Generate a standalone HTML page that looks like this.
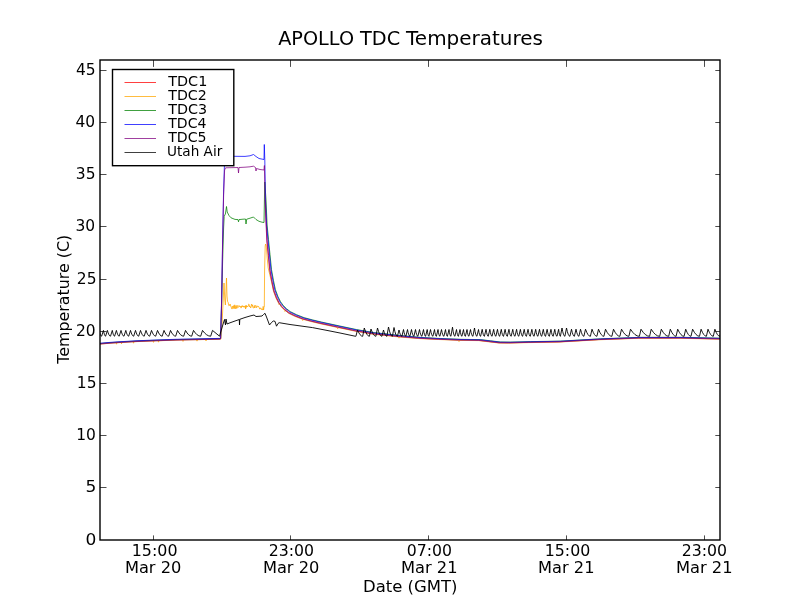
<!DOCTYPE html>
<html lang="en"><head><meta charset="utf-8"><title>APOLLO TDC Temperatures</title>
<style>
html,body{margin:0;padding:0;background:#fff;}
body{width:800px;height:600px;overflow:hidden;}
svg{display:block;will-change:transform;}
text{font-family:"DejaVu Sans","Bitstream Vera Sans","Liberation Sans",sans-serif;fill:#000;}
.t12{font-size:16.67px;}
.t10{font-size:13.89px;}
.t14{font-size:20px;}
.ln{fill:none;stroke-width:0.75;stroke-linejoin:round;stroke-linecap:butt;}
</style></head><body>
<svg width="800" height="600" viewBox="0 0 800 600">
<rect x="0" y="0" width="800" height="600" fill="#ffffff"/>

<defs><clipPath id="ax"><rect x="100" y="60" width="620" height="480"/></clipPath></defs>
<g clip-path="url(#ax)">
<path class="ln" stroke="#ff0000" d="M99.00 343.82 L100.00 343.72 L110.00 342.87 L118.00 342.32 L136.00 341.27 L156.00 340.47 L176.00 339.77 L200.00 339.27 L220.00 338.87 M265.25 200.00 L266.35 225.00 L267.10 240.70 L268.60 255.70 L270.10 270.70 L272.10 281.70 L274.00 290.70 L276.60 297.70 L279.10 302.70 L281.80 306.40 L285.10 309.70 L288.80 312.60 L295.10 315.70 L302.80 318.70 L311.10 320.90 L320.30 323.10 L337.80 326.90 L355.30 330.60 L372.80 333.60 L399.10 336.42 L419.10 338.14 L439.10 339.15 L459.10 339.95 L479.10 340.25 L489.10 341.45 L499.10 342.65 L509.10 342.75 L529.10 342.25 L559.10 341.75 L599.10 339.45 L639.10 337.95 L681.10 337.95 L720.10 338.85"/>
<path class="ln" stroke="#ffa500" d="M99.00 344.20 L100.00 344.10 L110.00 343.25 L116.10 342.83 L116.50 344.20 L116.90 342.78 L118.00 342.70 L121.10 342.52 L121.50 343.90 L121.90 342.47 L133.10 341.82 L133.50 343.20 L133.90 341.77 L136.00 341.65 L153.10 340.97 L153.50 342.35 L153.90 340.93 L156.00 340.85 L158.10 340.78 L158.50 342.16 L158.90 340.75 L176.00 340.15 L182.60 340.01 L183.00 341.40 L183.40 340.00 L196.60 339.72 L197.00 341.11 L197.40 339.70 L200.00 339.65 L205.60 339.54 L206.00 340.93 L206.40 339.52 L220.00 339.25 L220.80 339.20 L222.00 325.00 L223.20 300.00 L224.00 283.00 L224.80 300.00 L225.40 305.00 L226.00 290.00 L226.50 278.00 L227.00 296.00 L227.30 299.11 L227.69 301.78 L228.08 302.26 L228.47 304.05 L228.86 305.78 L229.25 305.42 L229.64 305.57 L230.03 303.99 L230.42 305.03 L230.81 306.23 L231.20 307.20 L231.59 307.94 L231.98 309.09 L232.37 306.39 L232.76 305.99 L233.15 308.59 L233.54 305.65 L233.93 306.65 L234.32 308.65 L234.71 304.83 L235.10 307.24 L235.49 308.70 L235.88 305.66 L236.27 306.99 L236.66 308.49 L237.05 305.22 L237.44 306.85 L237.83 307.79 L238.22 307.44 L238.61 306.58 L239.00 305.47 L239.39 306.66 L239.78 306.15 L240.17 306.58 L240.56 306.10 L240.95 308.08 L241.34 307.77 L241.73 305.85 L242.12 306.93 L242.51 305.67 L242.90 306.40 L243.29 305.96 L243.68 307.21 L244.07 305.98 L244.46 306.33 L244.85 307.39 L245.24 306.08 L245.63 309.02 L246.02 305.05 L246.41 307.37 L246.80 306.01 L247.19 306.00 L247.58 306.84 L247.97 306.35 L248.36 305.87 L248.75 304.10 L249.14 304.46 L249.53 307.02 L249.92 306.22 L250.31 306.91 L250.70 307.97 L251.09 306.80 L251.48 304.13 L251.87 305.18 L252.26 306.34 L252.65 304.81 L253.04 307.87 L253.43 307.92 L253.82 307.64 L254.21 306.20 L254.60 307.88 L254.99 305.03 L255.38 305.91 L255.77 306.69 L256.16 307.99 L256.55 307.05 L256.94 305.71 L257.33 306.72 L257.72 306.77 L258.11 306.78 L258.50 306.26 L258.89 307.36 L259.28 307.55 L259.67 308.98 L260.06 309.12 L260.45 308.02 L260.84 307.81 L261.23 309.20 L261.62 309.71 L262.01 308.87 L262.40 309.45 L262.79 310.08 L263.18 306.36 L263.57 309.92 L263.96 307.46 L264.30 307.00 L264.60 270.00 L265.20 246.00 L265.60 244.00 L266.20 246.00 L266.60 250.00 L267.20 258.00 L268.20 268.00 L271.60 282.25 L273.50 291.25 L276.10 298.25 L278.60 303.25 L279.00 304.55 L279.40 303.35 L281.30 306.95 L284.60 310.25 L285.00 311.55 L285.40 310.35 L288.30 313.15 L294.60 316.25 L302.30 319.25 L302.70 320.55 L303.10 319.35 L310.60 321.45 L319.80 323.65 L337.30 327.45 L337.70 328.75 L338.10 327.55 L354.80 331.15 L372.30 334.15 L398.60 336.90 L399.00 338.20 L399.40 337.00 L418.60 338.56 L438.60 339.51 L458.60 340.31 L459.00 341.61 L459.40 340.41 L478.60 340.61 L488.60 341.81 L498.60 343.01 L508.60 343.11 L528.60 342.61 L558.60 342.11 L598.60 339.81 L638.60 338.31 L680.60 338.31 L719.60 339.21"/>
<path class="ln" stroke="#008000" d="M99.00 343.61 L100.00 343.50 L110.00 342.65 L118.00 342.11 L136.00 341.06 L156.00 340.25 L176.00 339.56 L200.00 339.06 L220.00 338.65 L220.60 338.50 L221.60 305.00 L222.60 262.00 L223.60 228.00 L224.20 216.50 L224.80 215.00 L225.40 214.00 L226.50 206.50 L227.20 212.00 L229.00 215.50 L231.00 217.80 L235.00 219.40 L238.00 219.60 L238.50 221.80 L239.00 219.60 L243.00 219.20 L245.50 219.00 L246.00 224.00 L246.70 219.20 L250.00 218.20 L253.50 217.00 L256.00 219.50 L259.00 221.30 L262.00 222.20 L264.00 222.50 L264.50 195.00 L264.80 182.00 L266.00 200.00 L267.10 225.00 L268.50 239.70 L270.00 254.70 L271.50 269.70 L273.50 280.70 L275.40 289.70 L278.00 296.70 L280.50 301.70 L283.20 305.40 L286.50 308.70 L290.20 311.60 L296.50 314.70 L304.20 317.70 L312.50 319.90 L321.70 322.10 L339.20 325.90 L356.70 329.60 L374.20 332.60 L400.50 335.54 L420.50 337.37 L440.50 338.50 L460.50 339.31 L480.50 339.61 L490.50 340.81 L500.50 342.00 L510.50 342.11 L530.50 341.61 L560.50 341.11 L600.50 338.81 L640.50 337.31 L682.50 337.31 L721.50 338.20"/>
<path class="ln" stroke="#0000ff" d="M99.00 343.35 L100.00 343.25 L110.00 342.40 L118.00 341.85 L136.00 340.80 L156.00 340.00 L176.00 339.30 L200.00 338.80 L220.00 338.40 L220.60 338.20 L221.60 300.00 L222.60 240.00 L223.60 190.00 L224.60 160.00 L225.60 156.50 L234.00 156.30 L245.00 156.40 L250.00 155.80 L253.50 154.50 L256.00 156.50 L259.00 158.50 L264.00 159.50 L264.30 144.50 L264.80 160.00 L265.50 200.00 L266.60 225.00 L268.00 240.00 L269.50 255.00 L271.00 270.00 L273.00 281.00 L274.90 290.00 L277.50 297.00 L280.00 302.00 L282.70 305.70 L286.00 309.00 L289.70 311.90 L296.00 315.00 L303.70 318.00 L312.00 320.20 L321.20 322.40 L338.70 326.20 L356.20 329.90 L373.70 332.90 L400.00 335.80 L420.00 337.60 L440.00 338.70 L460.00 339.50 L480.00 339.80 L490.00 341.00 L500.00 342.20 L510.00 342.30 L530.00 341.80 L560.00 341.30 L600.00 339.00 L640.00 337.50 L682.00 337.50 L721.00 338.40"/>
<path class="ln" stroke="#800080" d="M99.00 344.12 L100.00 344.01 L110.00 343.16 L118.00 342.62 L136.00 341.56 L156.00 340.76 L176.00 340.06 L200.00 339.56 L220.00 339.16 L220.60 338.90 L221.60 302.00 L222.60 244.00 L223.60 196.00 L224.60 170.00 L225.60 167.80 L234.00 167.60 L238.00 167.50 L238.50 173.00 L239.00 167.50 L245.00 167.20 L250.00 166.80 L253.50 166.20 L255.50 167.50 L256.00 171.00 L256.50 168.50 L260.00 169.50 L264.00 170.00 L264.40 165.50 L264.70 180.00 L265.00 200.00 L266.10 225.00 L266.80 240.90 L268.30 255.90 L269.80 270.90 L271.80 281.90 L273.70 290.90 L276.30 297.90 L278.80 302.90 L281.50 306.60 L284.80 309.90 L288.50 312.80 L294.80 315.90 L302.50 318.90 L310.80 321.10 L320.00 323.30 L337.50 327.10 L355.00 330.80 L372.50 333.80 L398.80 336.60 L418.80 338.29 L438.80 339.28 L458.80 340.08 L478.80 340.38 L488.80 341.58 L498.80 342.78 L508.80 342.88 L528.80 342.38 L558.80 341.88 L598.80 339.58 L638.80 338.08 L680.80 338.08 L719.80 338.98"/>
<path class="ln" stroke="#000000" style="stroke-width:0.9" d="M97.40 336.20 L99.20 330.40 L99.81 332.94 L100.43 334.75 L101.04 335.84 L101.65 336.20 L103.45 330.40 L103.99 332.94 L104.53 334.75 L105.06 335.84 L105.60 336.20 L107.40 330.40 L108.18 332.94 L108.95 334.75 L109.72 335.84 L110.50 336.20 L112.30 330.40 L112.88 332.94 L113.45 334.75 L114.03 335.84 L114.60 336.20 L116.40 330.40 L117.10 332.94 L117.80 334.75 L118.50 335.84 L119.20 336.20 L121.00 330.40 L121.75 332.94 L122.50 334.75 L123.25 335.84 L124.00 336.20 L125.80 330.40 L126.52 332.94 L127.25 334.75 L127.97 335.84 L128.70 336.20 L130.50 330.40 L131.30 332.94 L132.10 334.75 L132.90 335.84 L133.70 336.20 L135.50 330.40 L136.30 332.94 L137.10 334.75 L137.90 335.84 L138.70 336.20 L140.50 330.40 L141.43 332.94 L142.35 334.75 L143.27 335.84 L144.20 336.20 L146.00 330.40 L146.93 332.94 L147.85 334.75 L148.77 335.84 L149.70 336.20 L151.50 330.40 L152.55 332.94 L153.60 334.75 L154.65 335.84 L155.70 336.20 L157.50 330.40 L158.68 332.94 L159.85 334.75 L161.02 335.84 L162.20 336.20 L164.00 330.40 L165.18 332.94 L166.35 334.75 L167.52 335.84 L168.70 336.20 L170.50 330.40 L171.80 332.94 L173.10 334.75 L174.40 335.84 L175.70 336.20 L177.50 330.40 L179.05 332.94 L180.60 334.75 L182.15 335.84 L183.70 336.20 L185.50 330.40 L187.05 332.94 L188.60 334.75 L190.15 335.84 L191.70 336.20 L193.50 330.40 L195.30 332.94 L197.10 334.75 L198.90 335.84 L200.70 336.20 L202.50 330.40 L204.55 332.94 L206.60 334.75 L208.65 335.84 L210.70 336.20 L212.50 330.40 L219.50 336.20 L221.00 331.00 L222.50 326.00 L224.50 319.50 L225.50 325.00 L226.00 319.00 L227.00 324.00 L230.00 322.80 L235.00 321.00 L239.30 319.50 L239.50 325.00 L239.80 319.30 L245.00 317.50 L250.00 316.00 L254.00 315.00 L256.00 316.50 L259.00 316.30 L262.00 316.00 L263.50 314.50 L265.00 313.30 L266.50 317.00 L269.50 325.00 L271.50 322.50 L273.30 321.00 L275.00 321.30 L276.50 326.20 L278.00 323.50 L279.20 322.70 L290.00 324.50 L312.50 327.60 L330.00 331.00 L340.00 333.00 L355.60 336.30 L355.90 336.30 L357.50 330.00 L358.80 332.76 L360.10 334.73 L361.40 335.91 L362.70 336.30 L364.30 328.00 L365.57 331.63 L366.85 334.23 L368.12 335.78 L369.40 336.30 L371.00 329.00 L372.23 332.19 L373.45 334.48 L374.67 335.84 L375.90 336.30 L377.50 328.00 L378.60 331.63 L379.70 334.23 L380.80 335.78 L381.90 336.30 L383.50 330.00 L384.35 332.76 L385.20 334.73 L386.05 335.91 L386.90 336.30 L388.50 327.00 L389.48 331.07 L390.45 333.98 L391.42 335.72 L392.40 336.30 L394.00 327.50 L394.85 331.35 L395.70 334.10 L396.55 335.75 L397.40 336.30 L399.00 330.00 L399.73 332.76 L400.45 334.73 L401.17 335.91 L401.90 336.30 L403.50 329.50 L404.10 332.48 L404.70 334.60 L405.30 335.88 L405.90 336.30 L407.50 329.50 L408.10 332.48 L408.70 334.60 L409.30 335.88 L409.90 336.30 L411.50 329.50 L412.10 332.48 L412.70 334.60 L413.30 335.88 L413.90 336.30 L415.50 329.50 L416.10 332.48 L416.70 334.60 L417.30 335.88 L417.90 336.30 L419.50 329.50 L420.10 332.48 L420.70 334.60 L421.30 335.88 L421.90 336.30 L423.50 329.50 L424.02 332.48 L424.55 334.60 L425.07 335.88 L425.60 336.30 L427.20 329.50 L427.62 332.48 L428.05 334.60 L428.47 335.88 L428.90 336.30 L430.50 329.50 L431.10 332.48 L431.70 334.60 L432.30 335.88 L432.90 336.30 L434.50 329.50 L434.98 332.48 L435.45 334.60 L435.92 335.88 L436.40 336.30 L438.00 329.50 L438.48 332.48 L438.95 334.60 L439.42 335.88 L439.90 336.30 L441.50 329.50 L442.10 332.48 L442.70 334.60 L443.30 335.88 L443.90 336.30 L445.50 329.50 L445.98 332.48 L446.45 334.60 L446.92 335.88 L447.40 336.30 L449.00 329.50 L449.48 332.48 L449.95 334.60 L450.42 335.88 L450.90 336.30 L452.50 327.20 L453.10 331.18 L453.70 334.02 L454.30 335.73 L454.90 336.30 L456.50 329.50 L456.98 332.48 L457.45 334.60 L457.92 335.88 L458.40 336.30 L460.00 329.50 L460.48 332.48 L460.95 334.60 L461.42 335.88 L461.90 336.30 L463.50 329.50 L463.98 332.48 L464.45 334.60 L464.92 335.88 L465.40 336.30 L467.00 329.50 L467.48 332.48 L467.95 334.60 L468.42 335.88 L468.90 336.30 L470.50 329.50 L471.10 332.48 L471.70 334.60 L472.30 335.88 L472.90 336.30 L474.50 328.00 L475.10 331.63 L475.70 334.23 L476.30 335.78 L476.90 336.30 L478.50 329.50 L479.02 332.48 L479.55 334.60 L480.07 335.88 L480.60 336.30 L482.20 329.30 L482.75 332.36 L483.31 334.55 L483.86 335.86 L484.42 336.30 L486.02 329.30 L486.57 332.36 L487.13 334.55 L487.68 335.86 L488.24 336.30 L489.84 329.30 L490.39 332.36 L490.95 334.55 L491.50 335.86 L492.06 336.30 L493.66 329.30 L494.21 332.36 L494.77 334.55 L495.32 335.86 L495.88 336.30 L497.48 329.30 L498.03 332.36 L498.59 334.55 L499.14 335.86 L499.70 336.30 L501.30 329.30 L501.85 332.36 L502.41 334.55 L502.96 335.86 L503.52 336.30 L505.12 329.30 L505.67 332.36 L506.23 334.55 L506.78 335.86 L507.34 336.30 L508.94 329.30 L509.49 332.36 L510.05 334.55 L510.60 335.86 L511.16 336.30 L512.76 329.30 L513.32 332.36 L513.87 334.55 L514.42 335.86 L514.98 336.30 L516.58 329.30 L517.13 332.36 L517.69 334.55 L518.25 335.86 L518.80 336.30 L520.40 329.30 L520.96 332.36 L521.51 334.55 L522.07 335.86 L522.62 336.30 L524.22 329.30 L524.78 332.36 L525.33 334.55 L525.89 335.86 L526.44 336.30 L528.04 329.30 L528.60 332.36 L529.15 334.55 L529.71 335.86 L530.26 336.30 L531.86 329.30 L532.42 332.36 L532.97 334.55 L533.53 335.86 L534.08 336.30 L535.68 329.30 L536.24 332.36 L536.79 334.55 L537.35 335.86 L537.90 336.30 L539.50 329.30 L540.06 332.36 L540.61 334.55 L541.17 335.86 L541.72 336.30 L543.32 329.30 L543.88 332.36 L544.43 334.55 L544.99 335.86 L545.54 336.30 L547.14 329.30 L547.70 332.36 L548.25 334.55 L548.81 335.86 L549.36 336.30 L550.96 329.30 L551.52 332.36 L552.07 334.55 L552.63 335.86 L553.18 336.30 L554.78 329.30 L555.34 332.36 L555.89 334.55 L556.45 335.86 L557.00 336.30 L558.60 329.30 L559.05 332.36 L559.50 334.55 L559.95 335.86 L560.40 336.30 L562.00 328.00 L562.73 331.63 L563.45 334.23 L564.17 335.78 L564.90 336.30 L566.50 328.00 L567.35 331.63 L568.20 334.23 L569.05 335.78 L569.90 336.30 L571.50 329.20 L572.23 332.31 L572.95 334.52 L573.67 335.86 L574.40 336.30 L576.00 329.20 L576.73 332.31 L577.45 334.52 L578.17 335.86 L578.90 336.30 L580.50 329.20 L581.35 332.31 L582.20 334.52 L583.05 335.86 L583.90 336.30 L585.50 329.20 L586.73 332.31 L587.95 334.52 L589.17 335.86 L590.40 336.30 L592.00 329.20 L593.23 332.31 L594.45 334.52 L595.67 335.86 L596.90 336.30 L598.50 329.20 L599.85 332.31 L601.20 334.52 L602.55 335.86 L603.90 336.30 L605.50 329.20 L607.10 332.31 L608.70 334.52 L610.30 335.86 L611.90 336.30 L613.50 329.20 L615.10 332.31 L616.70 334.52 L618.30 335.86 L619.90 336.30 L621.50 329.20 L623.35 332.31 L625.20 334.52 L627.05 335.86 L628.90 336.30 L630.50 329.20 L632.73 332.31 L634.95 334.52 L637.17 335.86 L639.40 336.30 L641.00 329.20 L643.15 332.31 L645.30 334.52 L647.45 335.86 L649.60 336.30 L651.20 329.20 L653.33 332.31 L655.45 334.52 L657.57 335.86 L659.70 336.30 L661.30 329.20 L663.15 332.31 L665.00 334.52 L666.85 335.86 L668.70 336.30 L670.30 329.20 L671.75 332.31 L673.20 334.52 L674.65 335.86 L676.10 336.30 L677.70 329.20 L679.30 332.31 L680.90 334.52 L682.50 335.86 L684.10 336.30 L685.70 329.20 L687.03 332.31 L688.35 334.52 L689.67 335.86 L691.00 336.30 L692.60 329.20 L694.33 332.31 L696.05 334.52 L697.77 335.86 L699.50 336.30 L701.10 329.20 L702.42 332.31 L703.75 334.52 L705.08 335.86 L706.40 336.30 L708.00 329.20 L709.33 332.31 L710.65 334.52 L711.97 335.86 L713.30 336.30 L714.90 329.20 L716.15 332.31 L717.40 334.52 L718.65 335.86 L719.90 336.30 L721.50 329.20"/>
</g>
<rect x="100.0" y="60.0" width="620.0" height="480.0" fill="none" stroke="#000" stroke-width="1.4"/>
<path d="M100.00 487.50H106.50 M720.00 487.50H715.30 M100.00 435.50H106.50 M720.00 435.50H715.30 M100.00 383.50H106.50 M720.00 383.50H715.30 M100.00 331.50H106.50 M720.00 331.50H715.30 M100.00 279.50H106.50 M720.00 279.50H715.30 M100.00 226.50H106.50 M720.00 226.50H715.30 M100.00 174.50H106.50 M720.00 174.50H715.30 M100.00 122.50H106.50 M720.00 122.50H715.30 M100.00 70.50H106.50 M720.00 70.50H715.30 M153.50 540.00V535.40 M153.50 60.00V66.90 M290.50 540.00V535.40 M290.50 60.00V66.90 M428.50 540.00V535.40 M428.50 60.00V66.90 M566.50 540.00V535.40 M566.50 60.00V66.90 M704.50 540.00V535.40 M704.50 60.00V66.90" stroke="#000" stroke-width="0.7" fill="none"/>
<text class="t12" x="362.98" y="592.00" textLength="94.53" lengthAdjust="spacingAndGlyphs">Date (GMT)</text>
<text class="t12" transform="translate(68.90 363.70) rotate(-90)" textLength="128.94" lengthAdjust="spacingAndGlyphs">Temperature (C)</text>
<text class="t12" x="85.60" y="544.50" textLength="10.85" lengthAdjust="spacingAndGlyphs">0</text>
<text class="t12" x="85.60" y="492.33" textLength="10.85" lengthAdjust="spacingAndGlyphs">5</text>
<text class="t12" x="76.13" y="440.15" textLength="19.70" lengthAdjust="spacingAndGlyphs">10</text>
<text class="t12" x="76.85" y="387.98" textLength="19.70" lengthAdjust="spacingAndGlyphs">15</text>
<text class="t12" x="76.03" y="335.80" textLength="19.70" lengthAdjust="spacingAndGlyphs">20</text>
<text class="t12" x="76.85" y="283.63" textLength="19.70" lengthAdjust="spacingAndGlyphs">25</text>
<text class="t12" x="75.53" y="231.46" textLength="19.70" lengthAdjust="spacingAndGlyphs">30</text>
<text class="t12" x="75.85" y="179.28" textLength="19.70" lengthAdjust="spacingAndGlyphs">35</text>
<text class="t12" x="75.53" y="127.11" textLength="19.70" lengthAdjust="spacingAndGlyphs">40</text>
<text class="t12" x="75.90" y="74.93" textLength="19.70" lengthAdjust="spacingAndGlyphs">45</text>
<text class="t12" x="131.75" y="556.00" textLength="45.80" lengthAdjust="spacingAndGlyphs">15:00</text>
<text class="t12" x="124.91" y="573.00" textLength="56.47" lengthAdjust="spacingAndGlyphs">Mar 20</text>
<text class="t12" x="268.65" y="556.00" textLength="45.40" lengthAdjust="spacingAndGlyphs">23:00</text>
<text class="t12" x="262.91" y="573.00" textLength="56.47" lengthAdjust="spacingAndGlyphs">Mar 20</text>
<text class="t12" x="406.76" y="556.00" textLength="45.28" lengthAdjust="spacingAndGlyphs">07:00</text>
<text class="t12" x="400.90" y="573.00" textLength="56.60" lengthAdjust="spacingAndGlyphs">Mar 21</text>
<text class="t12" x="544.76" y="556.00" textLength="45.59" lengthAdjust="spacingAndGlyphs">15:00</text>
<text class="t12" x="538.11" y="573.00" textLength="56.39" lengthAdjust="spacingAndGlyphs">Mar 21</text>
<text class="t12" x="681.65" y="556.00" textLength="45.40" lengthAdjust="spacingAndGlyphs">23:00</text>
<text class="t12" x="675.90" y="573.00" textLength="56.60" lengthAdjust="spacingAndGlyphs">Mar 21</text>
<text class="t14" y="44.90"><tspan x="278.15" textLength="75.92" lengthAdjust="spacingAndGlyphs">APOLLO</tspan> <tspan x="360.06" textLength="40.19" lengthAdjust="spacingAndGlyphs">TDC</tspan> <tspan x="406.06" textLength="136.89" lengthAdjust="spacingAndGlyphs">Temperatures</tspan></text>
<rect x="112.50" y="69.50" width="121.30" height="96.20" fill="#fff" stroke="#000" stroke-width="1.4"/>
<path d="M124.50 82.50H156.00" stroke="#ff0000" stroke-width="0.75" fill="none"/>
<text class="t10" x="168.24" y="85.80" textLength="39.09" lengthAdjust="spacingAndGlyphs">TDC1</text>
<path d="M124.50 96.50H156.00" stroke="#ffa500" stroke-width="0.75" fill="none"/>
<text class="t10" x="168.24" y="99.80" textLength="38.58" lengthAdjust="spacingAndGlyphs">TDC2</text>
<path d="M124.50 110.50H156.00" stroke="#008000" stroke-width="0.75" fill="none"/>
<text class="t10" x="168.24" y="113.80" textLength="38.91" lengthAdjust="spacingAndGlyphs">TDC3</text>
<path d="M124.50 124.50H156.00" stroke="#0000ff" stroke-width="0.75" fill="none"/>
<text class="t10" x="168.24" y="127.80" textLength="38.15" lengthAdjust="spacingAndGlyphs">TDC4</text>
<path d="M124.50 138.50H156.00" stroke="#800080" stroke-width="0.75" fill="none"/>
<text class="t10" x="168.24" y="141.80" textLength="38.39" lengthAdjust="spacingAndGlyphs">TDC5</text>
<path d="M124.50 152.50H156.00" stroke="#000000" stroke-width="0.75" fill="none"/>
<text class="t10" x="167.02" y="155.80" textLength="55.28" lengthAdjust="spacingAndGlyphs">Utah Air</text>
</svg></body></html>
